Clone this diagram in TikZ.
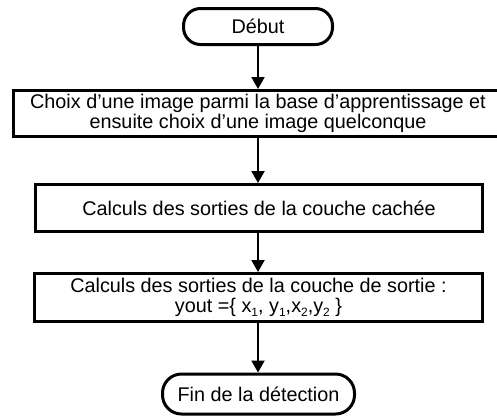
\documentclass[tikz,border=0pt]{standalone}
\usepackage{fontspec}
\setmainfont{Liberation Sans}
\usetikzlibrary{arrows.meta}
\newcommand{\mysubscr}[1]{\raisebox{-0.35ex}{\fontsize{12pt}{12pt}\selectfont #1}}
\begin{document}
\begin{tikzpicture}[x=1pt,y=-1pt,
  every node/.style={font=\fontsize{19.8pt}{19.5pt}\selectfont, align=center, inner sep=0pt},
  procbox/.style={draw, line width=3pt, rectangle},
  termbox/.style={draw, line width=3pt, rectangle, rounded corners=17pt},
  flow/.style={line width=2pt, -{Triangle[length=12pt,width=13pt]}}]
\useasboundingbox (0,0) rectangle (497,418);
\clip (0,0) rectangle (497,418);
\node[termbox, minimum width=149pt, minimum height=36pt] (debut) at (258,26.5) {Début};
\node[procbox, minimum width=490pt, minimum height=46pt] (choix) at (258,113.5) {Choix d’une image parmi la base d’apprentissage et\\ensuite choix d’une image quelconque};
\node[procbox, minimum width=447pt, minimum height=47pt] (cachee) at (259,208) {Calculs des sorties de la couche cachée};
\node[procbox, minimum width=448pt, minimum height=48pt] (sortie) at (258.5,297.5) {Calculs des sorties de la couche de sortie :\\yout =\{ x\mysubscr{1}, y\mysubscr{1},x\mysubscr{2},y\mysubscr{2} \}};
\node[termbox, minimum width=192pt, minimum height=40pt, rounded corners=19pt] (fin) at (258.5,394) {Fin de la détection};
\draw[flow] (debut.south -| 258,0) -- (choix.north -| 258,0);
\draw[flow] (choix.south -| 258,0) -- (cachee.north -| 258,0);
\draw[flow] (cachee.south -| 258,0) -- (sortie.north -| 258,0);
\draw[flow] (sortie.south -| 258,0) -- (fin.north -| 258,0);
\end{tikzpicture}
\end{document}
